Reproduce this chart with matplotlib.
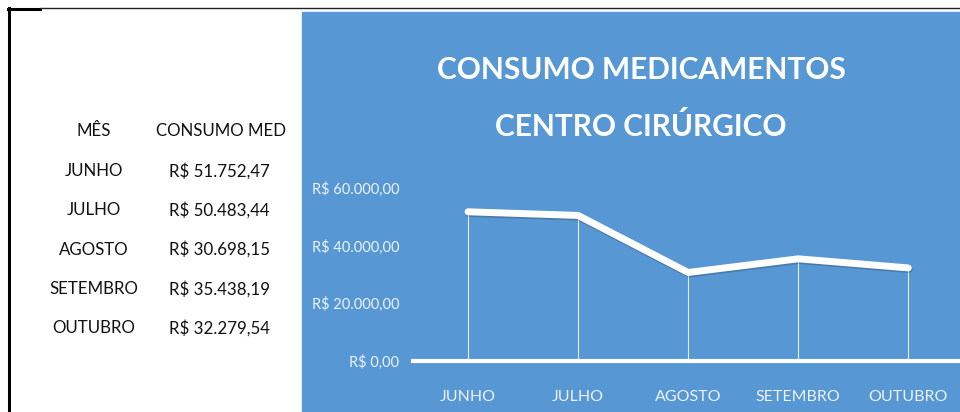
import matplotlib
matplotlib.use("Agg")
import matplotlib.pyplot as plt
import matplotlib.patheffects as pe
from matplotlib.patches import Rectangle
from matplotlib.lines import Line2D

# dados
meses = ["JUNHO", "JULHO", "AGOSTO", "SETEMBRO", "OUTUBRO"]
valores = [51752.47, 50483.44, 30698.15, 35438.19, 32279.54]
valores_txt = ["R$ 51.752,47", "R$ 50.483,44", "R$ 30.698,15", "R$ 35.438,19", "R$ 32.279,54"]
y_ticks = [0, 20000, 40000, 60000]
y_labels = ["R$ 0,00", "R$ 20.000,00", "R$ 40.000,00", "R$ 60.000,00"]
titulo = ["CONSUMO MEDICAMENTOS", "CENTRO CIRÚRGICO"]

plt.rcParams['font.family'] = ['Lato', 'DejaVu Sans']

W, H = 960, 412
fig = plt.figure(figsize=(W / 100, H / 100), dpi=100)
fig.patch.set_facecolor("white")

def fx(px):
    return px / W

def fy(py):
    return 1 - py / H

# bordas pretas
fig.add_artist(Line2D([fx(9), fx(9)], [fy(8), fy(412)], color="black", lw=2.2))
fig.add_artist(Line2D([fx(8), fx(40)], [fy(9), fy(9)], color="black", lw=2.2))
fig.add_artist(Line2D([fx(40), fx(960)], [fy(8), fy(8)], color="#222222", lw=1.0))

# painel azul
fig.add_artist(Rectangle((fx(302), 0), fx(960) - fx(302), fy(12), color="#5797d3", zorder=0))

# tabela a esquerda
fs = 12.2
fig.text(fx(94), fy(131), "MÊS", ha="center", va="center", fontsize=fs, color="#111111")
fig.text(fx(221), fy(131), "CONSUMO MED", ha="center", va="center", fontsize=fs, color="#111111")
for i, (m, v) in enumerate(zip(meses, valores_txt)):
    y = fy(171 + i * 39.3)
    fig.text(fx(94), y, m, ha="center", va="center", fontsize=fs, color="#111111")
    fig.text(fx(169), y, v, ha="left", va="center", fontsize=fs, color="#111111")

# titulo
sombra = [pe.withSimplePatchShadow(offset=(1, -1), shadow_rgbFace="#3a6f9f", alpha=0.5)]
for txt, ypx in zip(titulo, [70, 127]):
    fig.text(fx(641), fy(ypx), txt, ha="center", va="center", fontsize=21.5,
             fontweight="bold", color="white")

# grafico
ax = fig.add_axes([fx(413), fy(361), fx(960) - fx(413), (361 - 188) / H])
ax.set_facecolor("none")
x = list(range(len(meses)))
ax.vlines(x, 0, valores, color="white", lw=0.8, alpha=0.85)
ax.plot(x, valores, color="white", lw=5, solid_capstyle="round", solid_joinstyle="round",
        path_effects=[pe.SimpleLineShadow(offset=(0.5, -1.2), alpha=0.18), pe.Normal()])
ax.axhline(0, color="white", lw=3, clip_on=False)
ax.set_xlim(-0.5, 4.47)
ax.set_ylim(0, 60000)
ax.set_yticks(y_ticks)
ax.set_yticklabels(y_labels, color="#eef3fa", fontsize=10.5)
ax.set_xticks(x)
ax.set_xticklabels(meses, color="#eef3fa", fontsize=11.5)
ax.tick_params(length=0, axis="y", pad=10)
ax.tick_params(length=0, axis="x", pad=21)
for s in ax.spines.values():
    s.set_visible(False)

fig.savefig("out.png", dpi=100)
